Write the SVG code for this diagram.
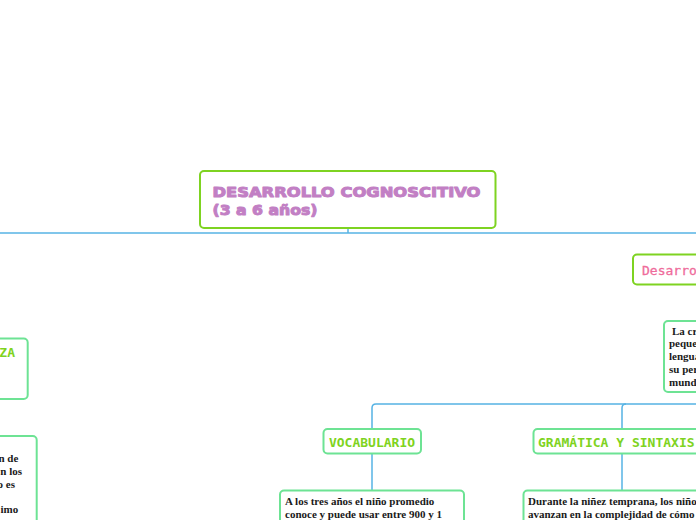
<svg xmlns="http://www.w3.org/2000/svg" width="696" height="520" viewBox="0 0 696 520">
<style>
.conn{fill:none;stroke:#56b3e4;stroke-width:1.5}
.main{fill:#fff;stroke:#7ed321;stroke-width:2}
.sub{fill:#fff;stroke:#6de394;stroke-width:2}
.title{font-family:"DejaVu Sans",sans-serif;font-weight:bold;font-size:14px;fill:#c27fc4;stroke:#c27fc4;stroke-width:1;stroke-linejoin:round}
.mono{font-family:"DejaVu Sans Mono",monospace;font-weight:bold;font-size:13px;fill:#7ed321}
.pink{font-family:"DejaVu Sans Mono",monospace;font-size:13px;fill:#ef6c9b;stroke:#ef6c9b;stroke-width:0.3}
.body{font-family:"Liberation Serif",serif;font-weight:bold;font-size:11px;fill:#1a1a1a}
</style>
<rect width="696" height="520" fill="#fff"/>
<g id="connectors">
<path class="conn" d="M0 233 H696"/>
<path class="conn" d="M348 228 V233"/>
<path class="conn" d="M372 429 V408 Q372 404 376 404 H696"/>
<path class="conn" d="M622 429 V408 Q622 404 626 404"/>
<path class="conn" d="M372 454 V490"/>
<path class="conn" d="M622 454 V490"/>
</g>
<g id="central">
<rect class="main" x="200" y="171" width="295.5" height="57" rx="4"/>
<text class="title" x="212.5" y="197" textLength="268" lengthAdjust="spacingAndGlyphs">DESARROLLO COGNOSCITIVO</text>
<text class="title" x="212.5" y="215" textLength="105" lengthAdjust="spacingAndGlyphs">(3 a 6 años)</text>
</g>
<g id="desarrollo">
<rect class="main" x="633" y="254.5" width="120" height="30" rx="4"/>
<text class="pink" x="642" y="274.5">Desarro</text>
</g>
<g id="la-cr">
<rect class="sub" x="664" y="321" width="120" height="71" rx="4"/>
<text class="body" x="672" y="334.5">La cr</text>
<text class="body" x="669" y="347.2">peque</text>
<text class="body" x="669" y="360">lengua</text>
<text class="body" x="669" y="372.7">su per</text>
<text class="body" x="669" y="385.5">mund</text>
</g>
<g id="za">
<rect class="sub" x="-100" y="338.5" width="127.7" height="60.5" rx="4"/>
<text class="mono" x="15" y="356.5" text-anchor="end">ZA</text>
</g>
<g id="left-text">
<rect class="sub" x="-200" y="436" width="236.7" height="200" rx="4"/>
<text class="body" x="18.3" y="462" text-anchor="end">n de</text>
<text class="body" x="22" y="475" text-anchor="end">n los</text>
<text class="body" x="15" y="487.5" text-anchor="end">o es</text>
<text class="body" x="18.3" y="513" text-anchor="end">imo</text>
</g>
<g id="vocabulario">
<rect class="sub" x="323.5" y="429" width="97.5" height="24.5" rx="4"/>
<text class="mono" x="372" y="446.5" text-anchor="middle">VOCABULARIO</text>
</g>
<g id="gramatica">
<rect class="sub" x="533.5" y="429" width="177" height="24.5" rx="4"/>
<text class="mono" x="538" y="446.5">GRAMÁTICA Y SINTAXIS</text>
</g>
<g id="vocab-text">
<rect class="sub" x="280" y="490.5" width="184" height="60" rx="4"/>
<text class="body" x="285" y="505">A los tres años el niño promedio</text>
<text class="body" x="285" y="518">conoce y puede usar entre 900 y 1</text>
</g>
<g id="gram-text">
<rect class="sub" x="523.5" y="490.5" width="200" height="60" rx="4"/>
<text class="body" x="528" y="505">Durante la niñez temprana, los niños</text>
<text class="body" x="528" y="518">avanzan en la complejidad de cómo</text>
</g>
</svg>
